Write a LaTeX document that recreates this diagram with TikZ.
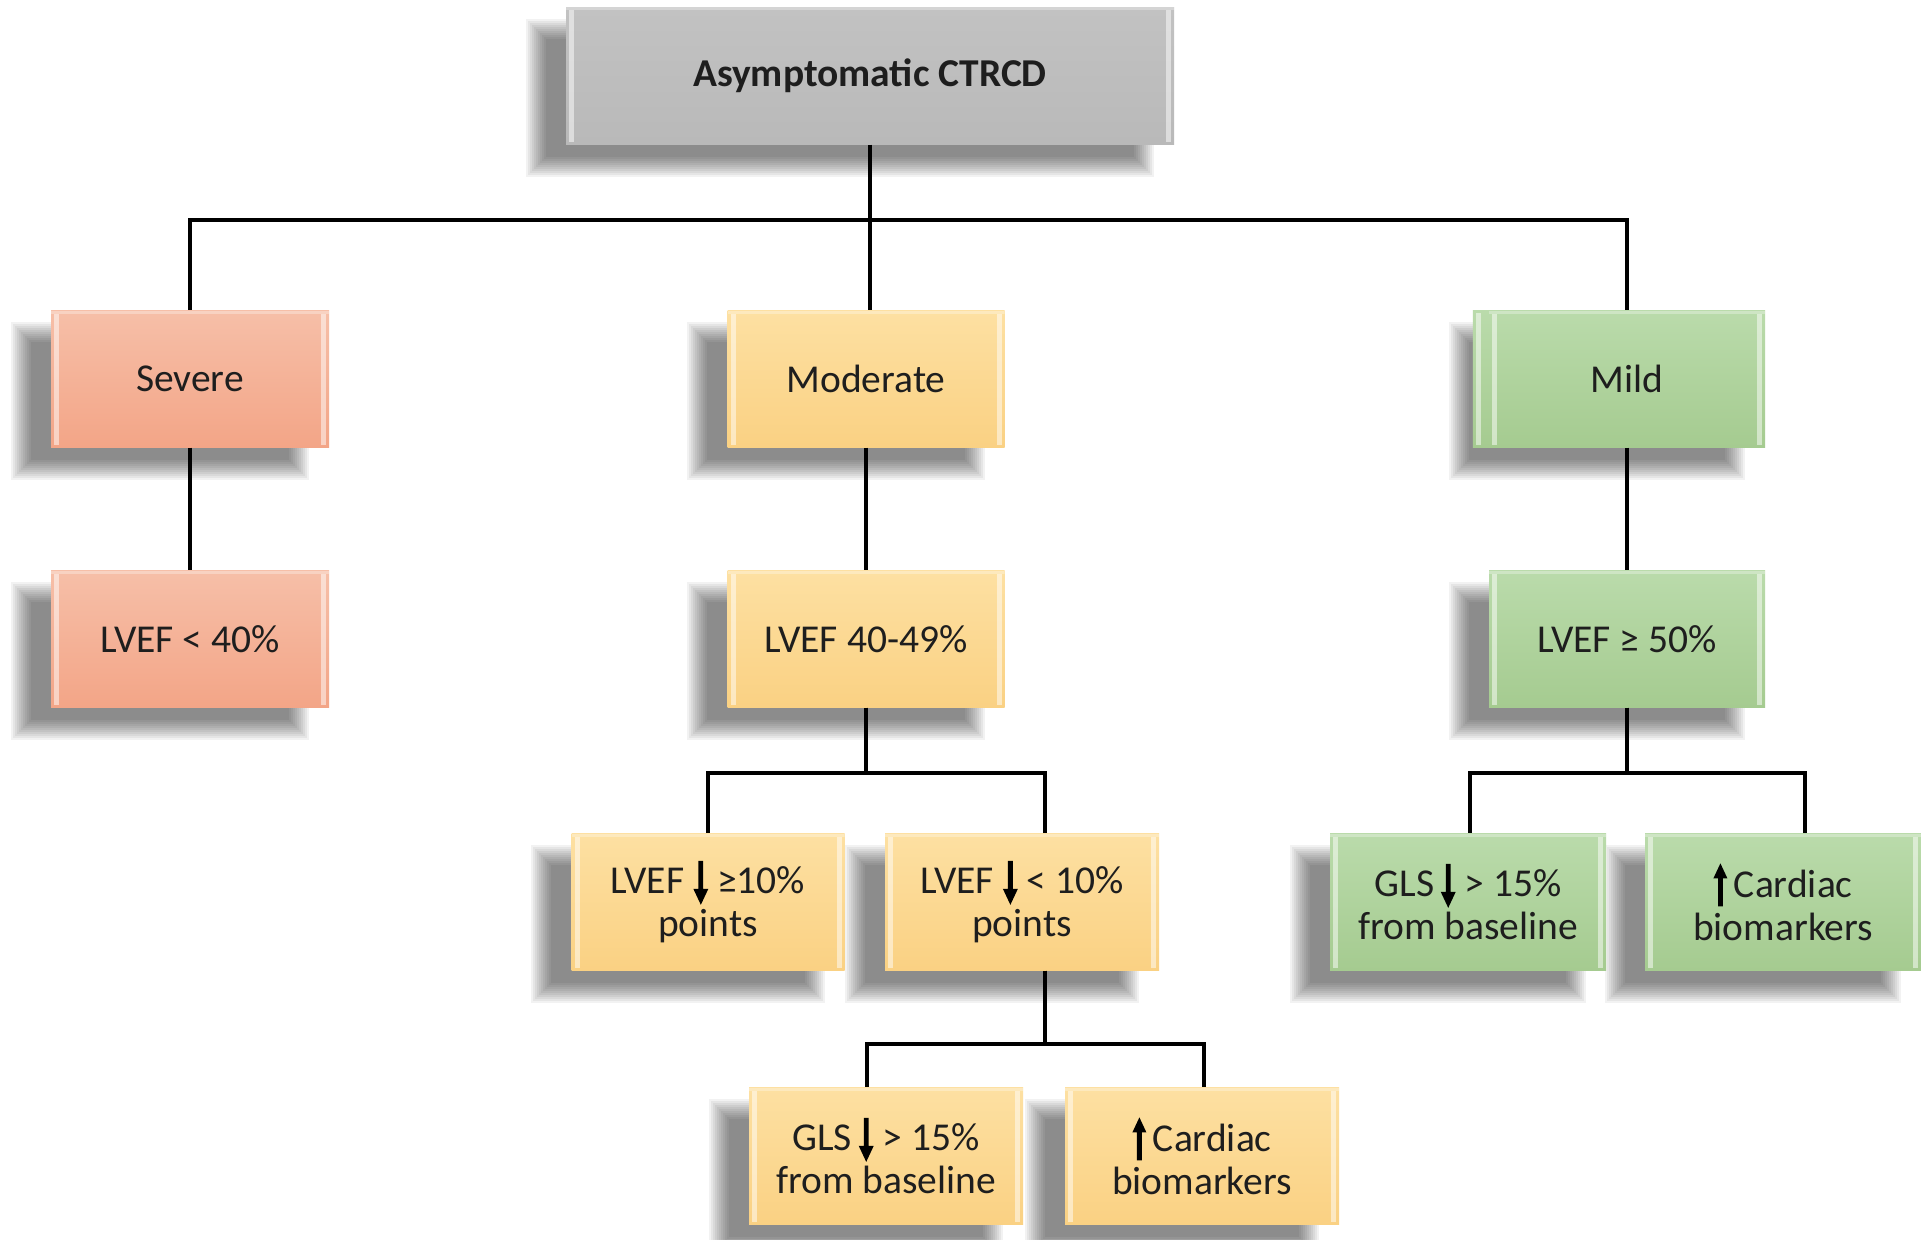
\documentclass[tikz,border=0pt]{standalone}
\usepackage{fontspec}
\setmainfont{Carlito}
\usetikzlibrary{calc}

\definecolor{txt}{HTML}{1E1E1E}
\definecolor{graytop}{HTML}{C2C2C2}
\definecolor{graybot}{HTML}{B9B9B9}
\definecolor{sevtop}{HTML}{F6BFA8}
\definecolor{sevbot}{HTML}{F3A587}
\definecolor{modtop}{HTML}{FDE0A2}
\definecolor{modbot}{HTML}{FAD183}
\definecolor{miltop}{HTML}{BADBAB}
\definecolor{milbot}{HTML}{A5CB90}

\pgfdeclarelayer{shade}
\pgfdeclarelayer{ghost}
\pgfsetlayers{shade,ghost,main}

\tikzset{
  bevel/.style={path picture={
    \fill[white,opacity=0.5]
      ([xshift=3pt,yshift=-3pt]path picture bounding box.north west) rectangle
      ([xshift=8pt,yshift=3pt]path picture bounding box.south west);
    \fill[white,opacity=0.5]
      ([xshift=-8pt,yshift=-3pt]path picture bounding box.north east) rectangle
      ([xshift=-3pt,yshift=3pt]path picture bounding box.south east);
    \fill[white,opacity=0.3]
      (path picture bounding box.north west) rectangle
      ([yshift=-3pt]path picture bounding box.north east);
  }},
  card/.style={rectangle, inner sep=0pt, minimum height=137pt, align=center,
    text=txt, font=\fontsize{39.5}{43}\selectfont, bevel},
  rootbox/.style={card, top color=graytop, bottom color=graybot,
    font=\fontsize{39.5}{43}\selectfont\bfseries},
  sevbox/.style={card, top color=sevtop, bottom color=sevbot},
  modbox/.style={card, top color=modtop, bottom color=modbot},
  milbox/.style={card, top color=miltop, bottom color=milbot},
  conn/.style={draw=black, line width=3.6pt},
}

% soft drop shadow offset to the lower left of a node
\newcommand\dropshadow[1]{%
  \foreach \k in {0,...,10}{%
    \fill[black,opacity=0.052]
      ([xshift={(2*\k-40)*1pt},yshift={(-12-2*\k)*1pt}]#1.north west) rectangle
      ([xshift={(-20-2*\k)*1pt},yshift={(2*\k-32)*1pt}]#1.south east);
  }%
}

% bold arrow glyphs used inside the box texts
\newsavebox\arrdownbox
\newsavebox\arrupbox
\newcommand\arrdown{\usebox\arrdownbox}
\newcommand\arrup{\usebox\arrupbox}
\newcommand\arrpt[2]{\pgfpoint{#1pt}{#2pt}}

\begin{document}
\sbox\arrdownbox{\begin{pgfpicture}
  \pgfsetbaseline{0pt}
  \pgfsetfillcolor{black}
  \pgfpathmoveto{\arrpt{-2.4}{33}}
  \pgfpathlineto{\arrpt{2.4}{33}}
  \pgfpathlineto{\arrpt{2.4}{5}}
  \pgfpathlineto{\arrpt{7.5}{5}}
  \pgfpathlineto{\arrpt{0}{-11}}
  \pgfpathlineto{\arrpt{-7.5}{5}}
  \pgfpathlineto{\arrpt{-2.4}{5}}
  \pgfpathclose
  \pgfusepath{fill}
\end{pgfpicture}}
\sbox\arrupbox{\begin{pgfpicture}
  \pgfsetbaseline{0pt}
  \pgfsetfillcolor{black}
  \pgfpathmoveto{\arrpt{0}{34}}
  \pgfpathlineto{\arrpt{7}{19}}
  \pgfpathlineto{\arrpt{2.4}{19}}
  \pgfpathlineto{\arrpt{2.4}{-9}}
  \pgfpathlineto{\arrpt{-2.4}{-9}}
  \pgfpathlineto{\arrpt{-2.4}{19}}
  \pgfpathlineto{\arrpt{-7}{19}}
  \pgfpathclose
  \pgfusepath{fill}
\end{pgfpicture}}

\begin{tikzpicture}[x=1pt,y=-1pt]
\useasboundingbox (0,0) rectangle (1921,1239);

% boxes
\node[rootbox, minimum width=608pt] (root) at (870,76) {Asymptomatic CTRCD};

\node[sevbox, minimum width=278pt] (severe)   at (190,379) {Severe};
\node[modbox, minimum width=277pt] (moderate) at (866,379) {Moderate};
\node[milbox, minimum width=276pt] (mild)     at (1627,379) {Mild};

\node[sevbox, minimum width=278pt] (lvef40)   at (190,639) {LVEF < 40\%};
\node[modbox, minimum width=277pt] (lvef4049) at (866,639) {LVEF 40-49\%};
\node[milbox, minimum width=276pt] (lvef50)   at (1627,639) {LVEF ≥ 50\%};

\node[modbox, minimum width=273pt] (dropbig)   at (708,902)  {LVEF \arrdown\ ≥10\%\\points};
\node[modbox, minimum width=274pt] (dropsmall) at (1022,902) {LVEF \arrdown\ < 10\%\\points};

\node[modbox, minimum width=274pt] (glsmod)  at (886,1156)  {GLS\,\arrdown\ > 15\%\\from baseline};
\node[modbox, minimum width=274pt] (biomod)  at (1202,1156) {\arrup\,Cardiac\\biomarkers};

\node[milbox, minimum width=276pt] (glsmil)  at (1468,902)  {GLS\,\arrdown\ > 15\%\\from baseline};
\node[milbox, minimum width=276pt] (biomil)  at (1783,902)  {\arrup\,Cardiac\\biomarkers};

% background: white page, shadows, and the doubled edge of the Mild box
\begin{pgfonlayer}{shade}
  \fill[white] (0,0) rectangle (1921,1239);
  \foreach \n in {root,severe,moderate,mild,lvef40,lvef4049,lvef50,
                  dropbig,dropsmall,glsmod,biomod,glsmil,biomil}{
    \dropshadow{\n}
  }
\end{pgfonlayer}
\begin{pgfonlayer}{ghost}
  \path[top color=miltop, bottom color=milbot]
    ([xshift=-16pt]mild.north west) rectangle ([xshift=-16pt]mild.south east);
  \fill[white,opacity=0.5]
    ([xshift=-13pt,yshift=-3pt]mild.north west) rectangle ([xshift=-8pt,yshift=3pt]mild.south west);
\end{pgfonlayer}

% connectors
\coordinate (bar1) at (0,220);
\draw[conn] (root.south) -- (root.south |- moderate.north);
\draw[conn] (root.south |- bar1) -| (severe.north);
\draw[conn] (root.south |- bar1) -| (mild.north);

\draw[conn] (severe.south) -- (lvef40.north);
\draw[conn] (moderate.south) -- (lvef4049.north);
\draw[conn] (mild.south) -- (lvef50.north);

\draw[conn] (lvef4049.south) -- ++(0,65) -| (dropbig.north);
\draw[conn] (lvef4049.south) -- ++(0,65) -| ([xshift=23pt]dropsmall.north);

\draw[conn] ([xshift=23pt]dropsmall.south) -- ++(0,73) -| ([xshift=-19pt]glsmod.north);
\draw[conn] ([xshift=23pt]dropsmall.south) -- ++(0,73) -| ([xshift=2pt]biomod.north);

\draw[conn] (lvef50.south) -- ++(0,65) -| ([xshift=2pt]glsmil.north);
\draw[conn] (lvef50.south) -- ++(0,65) -| ([xshift=22pt]biomil.north);
\end{tikzpicture}
\end{document}
